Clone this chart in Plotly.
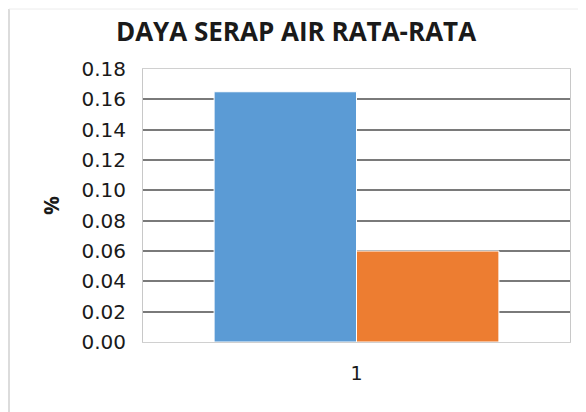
import plotly.graph_objects as go

categories = ["1"]
series_names = ["Series 1", "Series 2"]
series_values = [[0.165], [0.06]]
series_colors = ["#5B9BD5", "#ED7D31"]
tick_vals = [0.00, 0.02, 0.04, 0.06, 0.08, 0.10, 0.12, 0.14, 0.16, 0.18]
tick_text = ["%.2f" % v for v in tick_vals]

fig = go.Figure()
for name, vals, col in zip(series_names, series_values, series_colors):
    fig.add_trace(go.Bar(x=categories, y=vals, name=name,
                         marker=dict(color=col, line=dict(color="white", width=1))))

# page body has an 8px margin, so the figure starts at (8, 8) in the window
OFF = 8
W, H = 586 - OFF, 412 - OFF
ml, mr, mt, mb = 143 - OFF, 16, 69 - OFF, 70
pw = W - ml - mr
ph = H - mt - mb

fig.update_layout(
    width=W, height=H,
    margin=dict(l=ml, r=mr, t=mt, b=mb, autoexpand=False),
    paper_bgcolor="white", plot_bgcolor="white",
    barmode="group", bargap=0.333, bargroupgap=0,
    showlegend=False,
    title=dict(text="<b>DAYA SERAP AIR RATA-RATA</b>", x=(296 - OFF) / W, xanchor="center",
               y=1 - (32 - OFF) / H, yanchor="middle", automargin=False,
               font=dict(family="Open Sans", size=26, color="#1a1a1a")),
    font=dict(family="DejaVu Sans", color="#1a1a1a"),
    xaxis=dict(type="category", showgrid=False, ticks="outside", ticklen=14,
               tickcolor="rgba(0,0,0,0)", showline=True, mirror=True, automargin=False,
               linecolor="#d0d0d0", linewidth=1,
               tickfont=dict(family="DejaVu Sans", size=19, color="#1a1a1a")),
    yaxis=dict(range=[0, 0.18], tickvals=tick_vals, ticktext=tick_text, automargin=False,
               showgrid=True, gridcolor="#7a7a7a", gridwidth=1.5,
               zeroline=False, showline=True, mirror=True, linecolor="#c8c8c8", linewidth=1,
               ticks="outside", ticklen=12, tickcolor="rgba(0,0,0,0)",
               tickfont=dict(family="DejaVu Sans", size=20, color="#1a1a1a"),
               title=dict(text="<b>%</b>", font=dict(family="Open Sans", size=21, color="#1a1a1a"),
                          standoff=16)),
)
# outer chart border (left and top)
fig.add_shape(type="line", xref="paper", yref="paper",
              x0=(1 - ml) / pw, x1=(1 - ml) / pw, y0=(mb - H) / ph - 0.1, y1=(H - mb - 1) / ph,
              line=dict(color="#d0d0d0", width=1.5))
fig.add_shape(type="line", xref="paper", yref="paper",
              x0=(1 - ml) / pw, x1=(W - ml) / pw, y0=(H - mb - 1) / ph, y1=(H - mb - 1) / ph,
              line=dict(color="#ececec", width=1))

fig.write_html("out.html")
